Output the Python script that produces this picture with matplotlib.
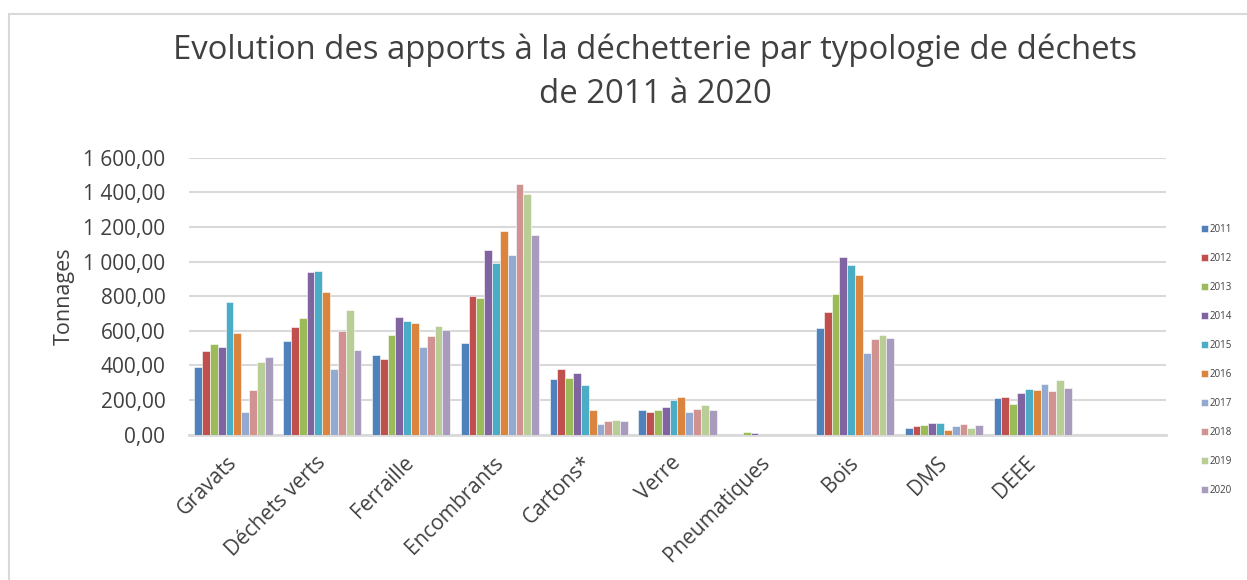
import numpy as np
import matplotlib
matplotlib.use("Agg")
import matplotlib.pyplot as plt
from matplotlib.patches import Rectangle
from matplotlib.ticker import FuncFormatter

plt.rcParams['font.family'] = ['Open Sans', 'DejaVu Sans']

categories = ['Gravats', 'Déchets verts', 'Ferraille', 'Encombrants', 'Cartons*',
              'Verre', 'Pneumatiques', 'Bois', 'DMS', 'DEEE', '']
years = ['2011', '2012', '2013', '2014', '2015', '2016', '2017', '2018', '2019', '2020']

# tonnages per category, one list per year
t2011 = [391, 539, 460, 531, 321, 140, 0, 616, 38, 210, 0]
t2012 = [483, 620, 435, 803, 377, 131, 0, 708, 52, 219, 0]
t2013 = [524, 674, 576, 791, 329, 142, 17, 810, 56, 177, 0]
t2014 = [506, 941, 681, 1068, 356, 160, 10, 1024, 67, 241, 0]
t2015 = [768, 945, 656, 989, 287, 198, 0, 980, 65, 264, 0]
t2016 = [587, 826, 643, 1176, 142, 217, 0, 924, 25, 258, 0]
t2017 = [129, 379, 506, 1036, 60, 129, 0, 470, 50, 291, 0]
t2018 = [258, 601, 570, 1448, 79, 150, 0, 552, 60, 252, 0]
t2019 = [418, 720, 629, 1392, 87, 171, 0, 576, 40, 318, 0]
t2020 = [450, 491, 603, 1153, 81, 140, 0, 558, 56, 268, 0]
series = [t2011, t2012, t2013, t2014, t2015, t2016, t2017, t2018, t2019, t2020]

colors = ['#4F81BD', '#C0504D', '#9BBB59', '#8064A2', '#4BACC6',
          '#DB843D', '#93A9CF', '#D19392', '#B9CD96', '#A99BBD']

fig = plt.figure(figsize=(12.47, 5.80), dpi=100)
ax = fig.add_axes([0.1516, 0.2505, 0.7834, 0.4776])

x = np.arange(len(categories))
n = len(series)
width = 0.088
for i, vals in enumerate(series):
    ax.bar(x + (i - (n - 1) / 2) * width, vals, width, color=colors[i],
           edgecolor='white', linewidth=0.4, label=years[i], zorder=3)

ax.set_xlim(-0.5, len(categories) - 0.5)
ax.set_ylim(0, 1600)
ax.set_yticks(np.arange(0, 1601, 200))


def fr_fmt(v, pos):
    return f"{v:,.2f}".replace(',', ' ').replace('.', ',')


ax.yaxis.set_major_formatter(FuncFormatter(fr_fmt))
ax.grid(axis='y', color='#D9D9D9', linewidth=1.5, zorder=0)
for s in ['top', 'right', 'left']:
    ax.spines[s].set_visible(False)
ax.spines['bottom'].set_color('#D9D9D9')
ax.spines['bottom'].set_linewidth(2)
ax.tick_params(axis='both', length=0, labelsize=15, colors='#404040')
ax.tick_params(axis='y', pad=17)
ax.set_xticks(x)
ax.set_xticklabels(categories, rotation=45, ha='right', va='center',
                   rotation_mode='anchor')
ax.tick_params(axis='x', pad=18)
ax.set_ylabel('Tonnages', fontsize=15.5, color='#404040', labelpad=6)

fig.text(655 / 1247, 1 - 50 / 580,
         'Evolution des apports à la déchetterie par typologie de déchets',
         ha='center', va='center', fontsize=23.7, color='#404040')
fig.text(655 / 1247, 1 - 95 / 580, 'de 2011 à 2020',
         ha='center', va='center', fontsize=23.7, color='#404040')

leg = ax.legend(loc='upper left', bbox_to_anchor=(1201 / 1247, 1 - 224 / 580),
                bbox_transform=fig.transFigure, frameon=False, fontsize=7,
                handlelength=0.7, handleheight=0.7, handletextpad=0.2,
                labelspacing=1.85, borderaxespad=0, borderpad=0)
for t in leg.get_texts():
    t.set_color('#404040')

# chart area frame
fig.add_artist(Rectangle((8.5 / 1247, -0.1), 1.2, 1.1 - 14 / 580,
                         transform=fig.transFigure, fill=False,
                         edgecolor='#D9D9D9', linewidth=1.5))

fig.savefig('out.png', dpi=100)
